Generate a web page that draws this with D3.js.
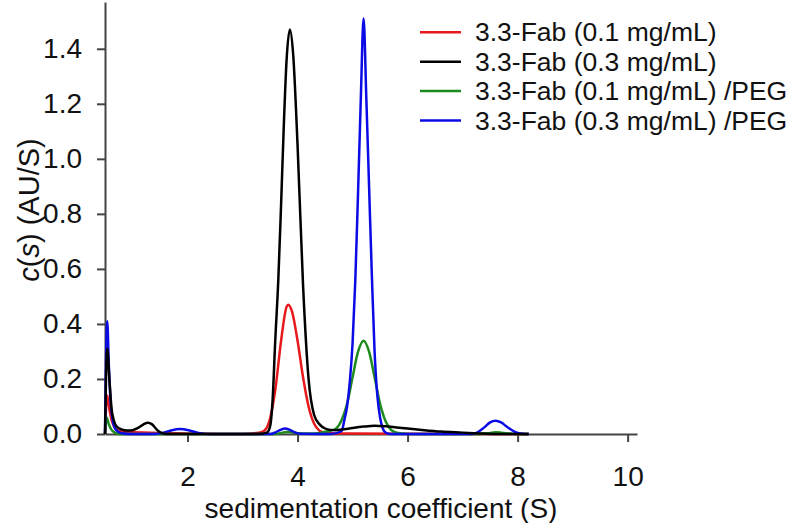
<!DOCTYPE html>
<html>
<head>
<meta charset="utf-8">
<script src="https://cdn.jsdelivr.net/npm/d3@7"></script>
<style>
  body { margin: 0; background: #fff; }
  svg { display: block; font-family: "Liberation Sans", Arial, sans-serif; }
  .axis path, .axis line { stroke: #444; stroke-width: 2; }
  .axis text { font-size: 28px; fill: #111; }
</style>
</head>
<body>
<div id="chart"></div>
<script>
// sedimentation coefficient (S) and c(s) values
var redS   = [0.5, 0.54, 0.58, 0.62, 0.67, 0.75, 0.9, 1.5, 2.0, 3.0, 3.3, 3.4, 3.5, 3.6, 3.7, 3.8, 3.83, 3.9, 4.0, 4.1, 4.2, 4.3, 4.4, 4.5, 4.6, 5.0, 6.0, 8.2];
var redC   = [0, 0.14, 0.09, 0.05, 0.025, 0.012, 0.007, 0.004, 0.002, 0, 0.005, 0.013, 0.056, 0.167, 0.338, 0.462, 0.47, 0.445, 0.339, 0.206, 0.1, 0.038, 0.012, 0.005, 0.003, 0.002, 0.001, 0];

var blackS = [0.5, 0.54, 0.58, 0.62, 0.66, 0.7, 0.8, 0.9, 1.0, 1.1, 1.2, 1.28, 1.35, 1.45, 1.55, 1.7, 3.3, 3.44, 3.5, 3.55, 3.59, 3.65, 3.7, 3.75, 3.8, 3.86, 3.92, 4.0, 4.1, 4.2, 4.3, 4.4, 4.5, 4.6, 4.7, 4.8, 5.0, 5.2, 5.4, 5.6, 5.8, 6.0, 6.3, 6.6, 7.0, 7.3, 7.6, 8.2];
var blackC = [0, 0.31, 0.2, 0.09, 0.05, 0.03, 0.017, 0.013, 0.014, 0.022, 0.035, 0.041, 0.036, 0.014, 0.002, 0, 0, 0.005, 0.027, 0.136, 0.32, 0.56, 0.83, 1.12, 1.357, 1.47, 1.38, 1.05, 0.54, 0.2, 0.07, 0.035, 0.02, 0.015, 0.014, 0.016, 0.022, 0.027, 0.03, 0.028, 0.024, 0.02, 0.014, 0.009, 0.005, 0.002, 0, 0];

var greenS = [0.5, 0.53, 0.57, 0.62, 0.68, 0.75, 3.6, 3.7, 3.8, 3.9, 4.0, 4.2, 4.4, 4.5, 4.6, 4.7, 4.8, 4.9, 5.0, 5.1, 5.2, 5.3, 5.4, 5.5, 5.6, 5.7, 5.8, 5.9, 6.0, 7.3, 7.5, 7.6, 7.7, 7.9, 8.2];
var greenC = [0, 0.06, 0.035, 0.015, 0.005, 0, 0, 0.004, 0.007, 0.006, 0.003, 0.002, 0.004, 0.008, 0.012, 0.02, 0.05, 0.11, 0.206, 0.299, 0.339, 0.299, 0.206, 0.11, 0.046, 0.015, 0.005, 0.002, 0, 0, 0.004, 0.006, 0.005, 0.001, 0];

var blueS  = [0.5, 0.54, 0.57, 0.6, 0.64, 0.7, 0.8, 1.0, 1.4, 1.55, 1.7, 1.87, 2.05, 2.2, 2.35, 3.5, 3.6, 3.7, 3.77, 3.85, 3.95, 4.05, 4.6, 4.8, 4.85, 4.9, 4.95, 5.0, 5.05, 5.1, 5.15, 5.2, 5.25, 5.3, 5.35, 5.4, 5.45, 5.5, 5.55, 5.6, 5.7, 7.15, 7.25, 7.4, 7.5, 7.6, 7.7, 7.8, 7.95, 8.1, 8.2];
var blueC  = [0, 0.41, 0.25, 0.12, 0.05, 0.015, 0.003, 0, 0, 0.004, 0.013, 0.018, 0.012, 0.004, 0, 0, 0.006, 0.016, 0.02, 0.016, 0.006, 0.001, 0, 0.01, 0.05, 0.1, 0.19, 0.33, 0.56, 0.88, 1.22, 1.51, 1.22, 0.9, 0.58, 0.3, 0.14, 0.06, 0.02, 0.005, 0, 0, 0.004, 0.025, 0.042, 0.048, 0.042, 0.027, 0.008, 0.001, 0];

var seriesNames  = ["3.3-Fab (0.1 mg/mL)", "3.3-Fab (0.3 mg/mL)", "3.3-Fab (0.1 mg/mL) /PEG", "3.3-Fab (0.3 mg/mL) /PEG"];
var seriesColors = ["#e8191c", "#000000", "#1d8a1d", "#0b0be6"];
var xTicks = [2, 4, 6, 8, 10];
var yTicks = [0, 0.2, 0.4, 0.6, 0.8, 1.0, 1.2, 1.4];

var series = [
  { name: seriesNames[0], color: seriesColors[0], s: redS,   c: redC },
  { name: seriesNames[1], color: seriesColors[1], s: blackS, c: blackC },
  { name: seriesNames[2], color: seriesColors[2], s: greenS, c: greenC },
  { name: seriesNames[3], color: seriesColors[3], s: blueS,  c: blueC }
];
// drawing order: red, green, blue, then black on top
var drawOrder = [0, 2, 3, 1];

var svg = d3.select("#chart")
            .append("svg")
            .attr("width", 787)
            .attr("height", 523);

var x = d3.scaleLinear().domain([0.5, 10.17]).range([105, 637]);
var y = d3.scaleLinear().domain([0, 1.57]).range([434, 2]);

// axes
svg.append("g")
   .attr("class", "axis")
   .attr("transform", "translate(0,434)")
   .call(d3.axisBottom(x).tickValues(xTicks).tickFormat(d3.format("d"))
          .tickSizeInner(8).tickSizeOuter(0).tickPadding(24));

svg.append("g")
   .attr("class", "axis")
   .attr("transform", "translate(105,0)")
   .call(d3.axisLeft(y).tickValues(yTicks).tickFormat(d3.format(".1f"))
          .tickSizeInner(8).tickSizeOuter(0).tickPadding(15));

// curves
var line = d3.line()
  .x(function (d) { return x(d[0]); })
  .y(function (d) { return y(d[1]); })
  .curve(d3.curveMonotoneX);

drawOrder.forEach(function (i) {
  var sr = series[i];
  svg.append("path")
     .datum(d3.zip(sr.s, sr.c))
     .attr("fill", "none")
     .attr("stroke", sr.color)
     .attr("stroke-width", 2.5)
     .attr("stroke-linejoin", "round")
     .attr("d", line);
});

// axis titles
svg.append("text")
   .attr("x", 381)
   .attr("y", 518)
   .attr("text-anchor", "middle")
   .style("font-size", "28px")
   .style("fill", "#111")
   .text("sedimentation coefficient (S)");

var yl = svg.append("text")
   .attr("transform", "translate(39,210) rotate(-90)")
   .attr("text-anchor", "middle")
   .style("font-size", "29px")
   .style("fill", "#111");
yl.append("tspan").style("font-style", "italic").text("c");
yl.append("tspan").text("(");
yl.append("tspan").style("font-style", "italic").text("s");
yl.append("tspan").text(") (AU/S)");

// legend
var legend = svg.append("g").attr("class", "legend");
series.forEach(function (sr, i) {
  var ly = 32.3 + i * 29.4;
  legend.append("line")
        .attr("x1", 420).attr("x2", 461)
        .attr("y1", ly).attr("y2", ly)
        .attr("stroke", sr.color)
        .attr("stroke-width", 2.5);
  legend.append("text")
        .attr("x", 475)
        .attr("y", ly)
        .attr("dy", "0.34em")
        .style("font-size", "26.5px")
        .style("fill", "#111")
        .text(sr.name);
});
</script>
</body>
</html>
